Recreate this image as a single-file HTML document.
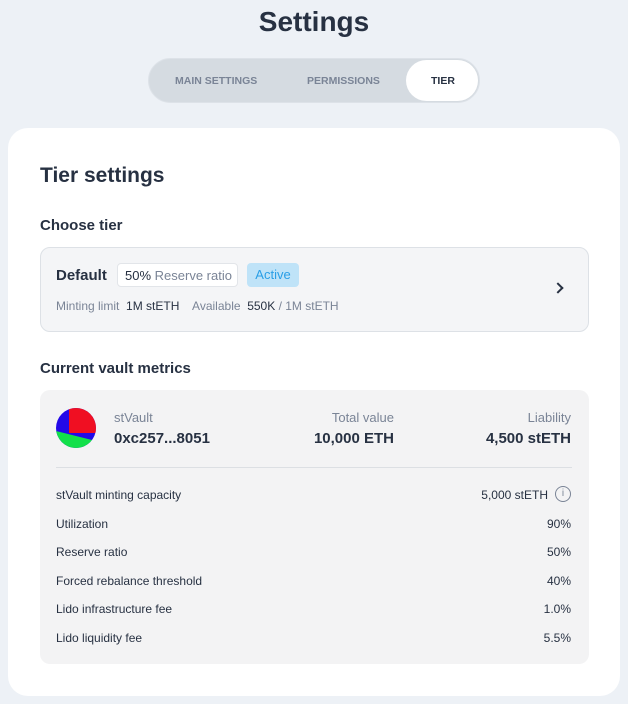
<!DOCTYPE html>
<html><head><style>
*{margin:0;padding:0;box-sizing:border-box}
body{width:628px;height:704px;background:#edf1f6;font-family:"Liberation Sans",sans-serif;position:relative;overflow:hidden;color:#273142}
.a{position:absolute;white-space:nowrap}
.g{color:#7a8496}
.r{text-align:right}
</style></head><body>
<div class="a" style="left:0;width:628px;top:6px;text-align:center;font-size:28px;font-weight:bold;color:#273142">Settings</div>
<div class="a" style="left:148px;top:58px;width:332px;height:45px;border-radius:23px;background:#d5dbe1;border:1px solid #dde2e8"></div>
<div class="a" style="left:406px;top:60px;width:72px;height:41px;border-radius:21px;background:#fff"></div>
<div class="a g" style="left:175px;top:75px;font-size:10.5px;font-weight:bold">MAIN SETTINGS</div>
<div class="a g" style="left:307px;top:75px;font-size:10.5px;font-weight:bold">PERMISSIONS</div>
<div class="a" style="left:431px;top:75px;font-size:10.5px;font-weight:bold">TIER</div>

<div class="a" style="left:8px;top:128px;width:612px;height:568px;background:#fff;border-radius:20px"></div>
<div class="a" style="left:40px;top:164px;font-size:21px;font-weight:bold">Tier settings</div>
<div class="a" style="left:40px;top:217px;font-size:15px;font-weight:bold">Choose tier</div>

<div class="a" style="left:40px;top:247px;width:549px;height:85px;border:1px solid #dde1e6;border-radius:10px;background:#f4f5f7"></div>
<div class="a" style="left:56px;top:267px;font-size:15px;font-weight:bold">Default</div>
<div class="a" style="left:117px;top:263px;width:121px;height:24px;border:1px solid #e2e5e9;border-radius:4px;background:#fff"></div>
<div class="a" style="left:125px;top:268px;font-size:13px">50% <span class="g">Reserve ratio</span></div>
<div class="a" style="left:247px;top:263px;width:52px;height:24px;border-radius:4px;background:#bfe3f8;color:#2a9fe6;font-size:13px;text-align:center;line-height:24px">Active</div>
<div class="a" style="left:56px;top:299px;font-size:12px"><span class="g">Minting limit</span>&nbsp; 1M stETH &nbsp;&nbsp; <span class="g">Available</span>&nbsp; 550K <span class="g">/ 1M stETH</span></div>
<div class="a" style="left:554px;top:284px;width:8px;height:8px;border-right:2px solid #273142;border-top:2px solid #273142;transform:rotate(45deg)"></div>

<div class="a" style="left:40px;top:360px;font-size:15px;font-weight:bold">Current vault metrics</div>
<div class="a" style="left:40px;top:390px;width:549px;height:274px;border-radius:10px;background:#f3f3f4"></div>
<svg class="a" style="left:56px;top:408px" width="40" height="40" viewBox="0 0 40 40">
<defs><clipPath id="c"><circle cx="20" cy="20" r="20"/></clipPath></defs>
<g clip-path="url(#c)">
<rect width="40" height="40" fill="#2309e8"/>
<rect x="13" y="0" width="27" height="25" fill="#f00f22"/>
<polygon points="0,23 40,33 40,40 0,40" fill="#12e04a"/>
</g></svg>
<div class="a g" style="left:114px;top:410px;font-size:13px">stVault</div>
<div class="a" style="left:114px;top:430px;font-size:15px;font-weight:bold">0xc257...8051</div>
<div class="a g r" style="right:234px;top:410px;font-size:13px">Total value</div>
<div class="a r" style="right:234px;top:430px;font-size:15px;font-weight:bold">10,000 ETH</div>
<div class="a g r" style="right:57px;top:410px;font-size:13px">Liability</div>
<div class="a r" style="right:57px;top:430px;font-size:15px;font-weight:bold">4,500 stETH</div>
<div class="a" style="left:56px;top:467px;width:516px;height:1px;background:#dcdfe3"></div>

<div class="a" style="left:56px;top:488px;font-size:12px">stVault minting capacity</div>
<div class="a r" style="right:80px;top:488px;font-size:12px">5,000 stETH</div>
<div class="a" style="left:555px;top:486px;width:16px;height:16px;border:1px solid #7a8496;border-radius:50%;font-size:10px;text-align:center;line-height:14px;color:#7a8496">i</div>
<div class="a" style="left:56px;top:517px;font-size:12px">Utilization</div><div class="a r" style="right:57px;top:517px;font-size:12px">90%</div>
<div class="a" style="left:56px;top:545px;font-size:12px">Reserve ratio</div><div class="a r" style="right:57px;top:545px;font-size:12px">50%</div>
<div class="a" style="left:56px;top:574px;font-size:12px">Forced rebalance threshold</div><div class="a r" style="right:57px;top:574px;font-size:12px">40%</div>
<div class="a" style="left:56px;top:602px;font-size:12px">Lido infrastructure fee</div><div class="a r" style="right:57px;top:602px;font-size:12px">1.0%</div>
<div class="a" style="left:56px;top:631px;font-size:12px">Lido liquidity fee</div><div class="a r" style="right:57px;top:631px;font-size:12px">5.5%</div>
</body></html>
